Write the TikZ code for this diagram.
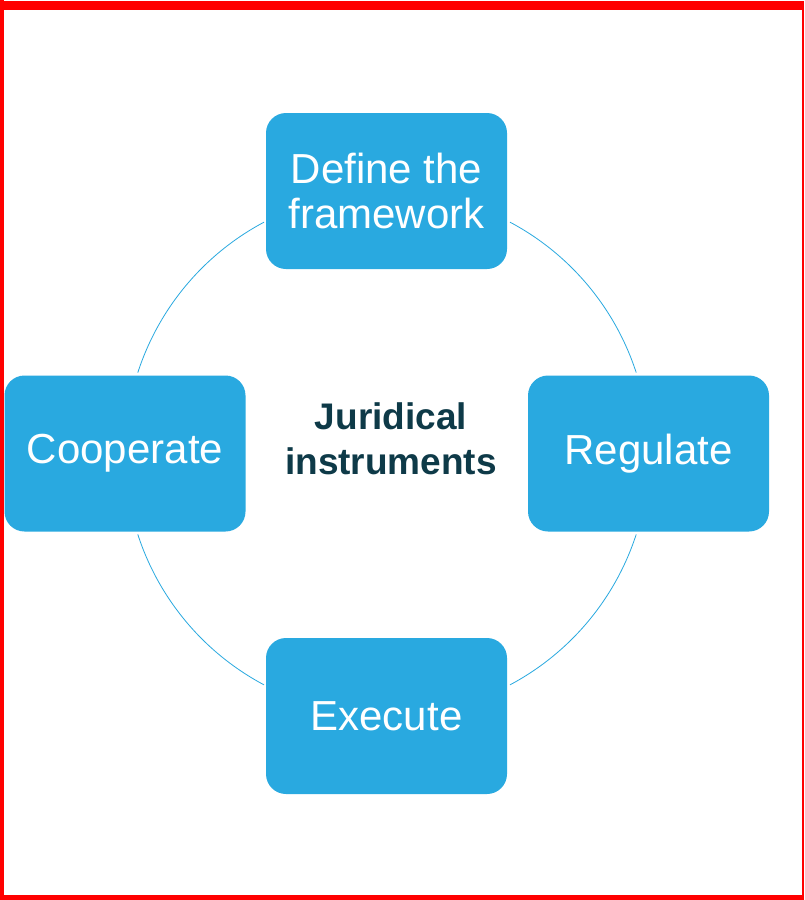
\documentclass[tikz,border=0pt]{standalone}
\usepackage{fontspec}
\setmainfont{Liberation Sans}
\usetikzlibrary{calc}
\definecolor{boxblue}{HTML}{29A9E0}
\definecolor{darkteal}{HTML}{0E3A48}
\definecolor{frame}{HTML}{FF0000}
\begin{document}
\begin{tikzpicture}[x=1pt,y=-1pt,
  stage/.style={rectangle, rounded corners=20pt, fill=boxblue, text=white,
    minimum width=241pt, minimum height=156pt, inner sep=0pt, align=center,
    font=\fontsize{42}{45}\selectfont},
  hub/.style={text=darkteal, align=center, font=\bfseries\fontsize{37}{45}\selectfont},
  ring/.style={draw=boxblue, line width=0.8pt}]
\useasboundingbox (0,0) rectangle (804,900);
\fill[white] (0,0) rectangle (804,900);
% frame
\fill[frame] (0,1) rectangle (804,10);
\fill[frame] (0,0) rectangle (4,900);
\fill[frame] (0,895) rectangle (804,900);
\fill[frame] (802,1) rectangle (804,900);
% ring arcs
\coordinate (c) at (387,453.5);
\foreach \a in {18,118,198,298}{
  \draw[ring] ($(c)+(\a:262pt)$) arc[start angle=\a, delta angle=44, radius=262pt];
}
% nodes
\node[stage] (top) at (386.5,191) {Define the\\framework};
\node[stage] (right) at (648.5,453.5) {\raisebox{-3pt}{Regulate}};
\node[stage] (bottom) at (386.5,716) {\raisebox{-2pt}{Execute}};
\node[stage] (left) at (125,453.5) {\raisebox{-3pt}{Cooperate}};
\node[hub] (hub) at (391,439) {Juridical\\instruments};
\end{tikzpicture}
\end{document}
